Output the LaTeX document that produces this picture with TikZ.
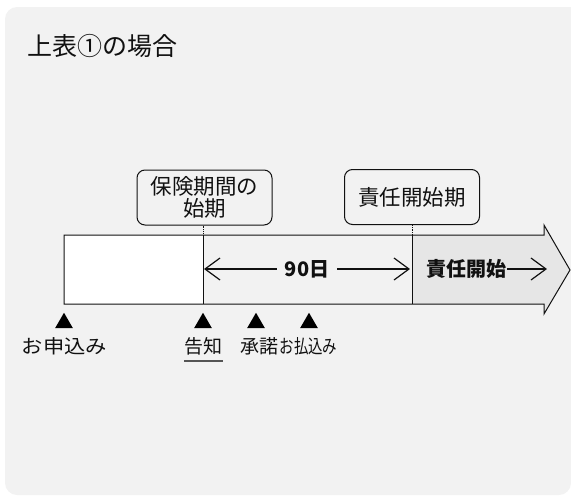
\documentclass[tikz,border=0pt]{standalone}
\usepackage{fontspec}
\usepackage{graphicx}
\setmainfont{Noto Sans CJK JP}
\usetikzlibrary{arrows.meta,shapes.geometric,calc}
\definecolor{bg}{HTML}{F2F2F2}
\definecolor{arrfill}{HTML}{E6E6E6}
\definecolor{uline}{HTML}{555555}
\definecolor{ink}{HTML}{111111}
\begin{document}
\begin{tikzpicture}[x=1pt,y=-1pt,
  lbl/.style={font=\fontsize{19pt}{22pt}\selectfont, inner sep=0pt, text=ink},
  boxtxt/.style={draw=ink, line width=1pt, rounded corners=8pt, fill=bg,
    minimum width=135pt, minimum height=55pt, align=center,
    font=\fontsize{21.5pt}{22pt}\selectfont, inner sep=0pt, text=ink},
  tri/.style={regular polygon, regular polygon sides=3, fill=black,
    inner sep=0pt, minimum size=20.5pt},
  barb/.style={-{Straight Barb[length=15pt,width=22pt]}, line width=1.2pt, draw=ink},
  boldtxt/.style={font=\fontsize{20pt}{22pt}\selectfont\bfseries, text=ink},
  outline/.style={draw=ink, line width=1pt}
]
\useasboundingbox (0,0) rectangle (571,496);
% background panel
\fill[bg, rounded corners=12pt] (571,7) -- (5,7) -- (5,495) -- (571,495) [sharp corners] -- cycle;
% title
\node[font=\fontsize{25pt}{28pt}\selectfont, anchor=west, inner sep=0pt, text=ink] (title) at (27,46) {上表①の場合};
% timeline shape
\fill[white] (64,235) rectangle (203,304);
\fill[arrfill] (412,235) -- (544,235) -- (544,225) -- (570,270) -- (544,314) -- (544,304) -- (412,304) -- cycle;
\draw[outline] (64,235) -- (544,235) -- (544,225) -- (570,270) -- (544,314) -- (544,304) -- (64,304) -- cycle;
\coordinate (p1) at (203,235);
\coordinate (q1) at (203,304);
\coordinate (p2) at (412,235);
\coordinate (q2) at (412,304);
\draw[outline] (p1) -- (q1);
\draw[outline] (p2) -- (q2);
% callout boxes
\node[boxtxt] (b1) at (204.5,197.5) {保険期間の\\始期};
\node[boxtxt] (b2) at (412,197) {責任開始期};
\draw[ink, densely dotted, line width=0.8pt] (b1.south -| p1) -- (p1);
\draw[ink, densely dotted, line width=0.8pt] (b2.south -| p2) -- (p2);
% 90 days
\node[boldtxt, inner xsep=8pt, inner ysep=0pt] (n90) at (307,269) {90日};
\coordinate (a90l) at (204,269);
\coordinate (a90r) at (410,269);
\draw[barb] (n90.west) -- (a90l);
\draw[barb] (n90.east) -- (a90r);
% responsibility start
\node[boldtxt, inner xsep=1pt, inner ysep=0pt] (rs) at (466,269) {責任開始};
\coordinate (ars) at (547,269);
\draw[barb] (rs.east) -- (ars);
% markers
\node[tri] (m1) at (64,323) {};
\node[tri] (m2) at (203,323) {};
\node[tri] (m3) at (256,323) {};
\node[tri] (m4) at (309,323) {};
% labels
\node[lbl] (l1) at (64.5,346) {\scalebox{1.12}[1]{お申込み}};
\node[lbl] (l2) at (203.5,346) {告知};
\node[lbl] (l3) at (259,346) {承諾};
\node[lbl] (l4) at (308.5,346) {\scalebox{0.76}[1]{お払込み}};
\draw[uline, line width=2.5pt] ($(l2.south west)+(0,6)$) -- ($(l2.south east)+(0,6)$);
\end{tikzpicture}
\end{document}
